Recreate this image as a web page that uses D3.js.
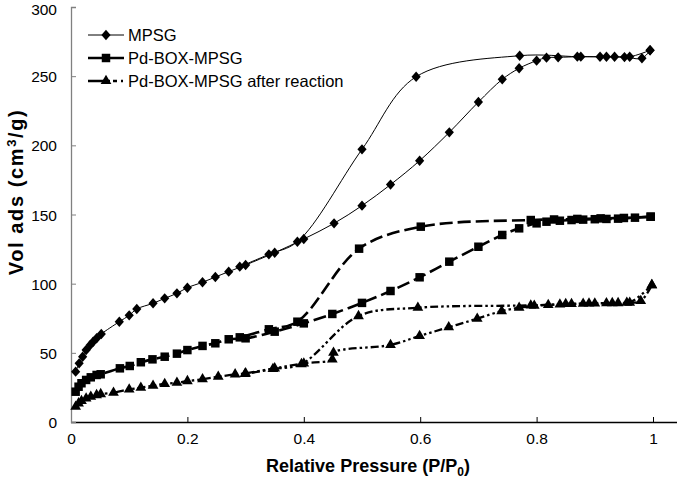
<!DOCTYPE html>
<html><head><meta charset="utf-8">
<script src="https://cdn.jsdelivr.net/npm/d3@7"></script>
<style>body{margin:0;background:#fff}svg{display:block}text{font-family:"Liberation Sans",Arial,sans-serif}</style>
</head><body>
<script>
// ---- data ----
const seriesNames = ["MPSG", "Pd-BOX-MPSG", "Pd-BOX-MPSG after reaction"];
const xTicks = [0, 0.2, 0.4, 0.6, 0.8, 1];
const yTicks = [0, 50, 100, 150, 200, 250, 300];

const mpsgAdsX = [0.008,0.014,0.020,0.026,0.033,0.038,0.044,0.052,0.083,0.100,0.113,0.141,0.161,0.182,0.200,0.226,0.248,0.271,0.300,0.350,0.400,0.452,0.500,0.549,0.599,0.650,0.700,0.741,0.770,0.800,0.817,0.837,0.876,0.920,0.951,0.981,0.995];
const mpsgAdsY = [36.4,42.4,47.2,52,55.7,58,60.5,63.6,72.5,77.1,81.7,85.8,89.4,93,97.1,101,104.8,108.7,113.5,122.4,132.3,143.6,156.4,171.6,188.9,209.4,231.3,247.7,255.7,261.2,263.4,263.6,264.1,264,263.8,262.9,268.7];
const mpsgDesX = [0.995,0.960,0.934,0.909,0.870,0.771,0.593,0.500,0.389,0.340,0.290];
const mpsgDesY = [268.7,264,264,264,264.1,264.8,249.6,197.1,130.3,121.2,112.3];

const pdAdsX = [0.008,0.013,0.018,0.026,0.034,0.044,0.051,0.084,0.101,0.120,0.140,0.161,0.182,0.200,0.226,0.248,0.271,0.300,0.350,0.400,0.449,0.500,0.549,0.599,0.650,0.700,0.741,0.770,0.800,0.817,0.84,0.86,0.88,0.90,0.92,0.94,0.969,0.996];
const pdAdsY = [21.9,25.5,28,30.4,32.3,34,34.5,38.8,40.5,43.2,45.3,47.2,49.4,52,55,56.9,59.8,60.5,65.3,71.3,78.1,86.1,94.7,104.6,115.9,126.7,135.2,140,143.6,144.8,145.5,146,146.3,146.6,146.8,147,147.7,148.4];
const pdDesX = [0.996,0.95,0.91,0.87,0.83,0.790,0.601,0.495,0.389,0.340,0.290];
const pdDesY = [148.4,147.5,147.2,146.8,146.4,146,141.2,125.3,72.5,67,61.2];

const arAdsX = [0.008,0.013,0.018,0.026,0.034,0.044,0.051,0.073,0.100,0.120,0.141,0.161,0.182,0.200,0.226,0.253,0.282,0.300,0.350,0.400,0.449,0.451,0.549,0.599,0.649,0.698,0.740,0.770,0.796,0.82,0.84,0.86,0.88,0.90,0.92,0.94,0.955,0.979,0.998];
const arAdsY = [11.1,13.5,15.2,17.1,18.3,19.5,20.2,21.2,23.6,24.8,26.2,27.5,28.4,29.6,30.9,32.7,34.5,35.2,38.8,42.4,45.3,50.1,55.7,62.2,68.5,74.7,80.2,82.6,84.1,84.6,85,85.3,85.5,85.7,85.9,86,86.2,87.5,99];
const arDesX = [0.998,0.96,0.93,0.89,0.85,0.79,0.596,0.494,0.396,0.347,0.299];
const arDesY = [99,86.3,86,85.7,85.3,84.3,82.6,76.6,41.9,38.3,34.7];

// ---- layout ----
const W = 677, H = 479;
const svg = d3.select("body").append("svg").attr("width", W).attr("height", H);
const x = d3.scaleLinear().domain([0, 1]).range([71, 653]);
const y = d3.scaleLinear().domain([0, 300]).range([422, 7]);

// axes
const xAxis = d3.axisBottom(x).tickValues(xTicks).tickSize(-5).tickPadding(11).tickFormat(d => d === 1 ? "1" : d === 0 ? "0" : d3.format(".1f")(d));
const gx = svg.append("g").attr("transform", "translate(0,422)").call(xAxis);
gx.select(".domain").remove();
gx.selectAll(".tick line").attr("stroke", "#000");
gx.selectAll(".tick").filter(d => d === 0).select("line").remove();
gx.selectAll("text").attr("font-size", 15.5).attr("fill", "#000").attr("dy", "0.71em");
svg.append("line").attr("x1", 71).attr("x2", W).attr("y1", 422.5).attr("y2", 422.5).attr("stroke", "#000").attr("stroke-width", 1.3);

const yAxis = d3.axisLeft(y).tickValues(yTicks).tickSize(-5).tickPadding(14);
const gy = svg.append("g").attr("transform", "translate(71,0)").call(yAxis);
gy.select(".domain").attr("stroke", "#808080").attr("stroke-width", 1.3);
gy.selectAll(".tick line").attr("stroke", "#808080");
gy.selectAll(".tick").filter(d => d === 0).select("line").remove();
gy.selectAll("text").attr("font-size", 15.5).attr("fill", "#000").attr("dy", d => d === 300 ? "0.5em" : "0.36em");

// titles
const xt = svg.append("text").attr("x", 368).attr("y", 472).attr("text-anchor", "middle")
  .attr("font-size", 18).attr("font-weight", "bold");
xt.append("tspan").text("Relative Pressure (P/P");
xt.append("tspan").attr("font-size", 12).attr("dy", 4).text("0");
xt.append("tspan").attr("dy", -4).text(")");

const yt = svg.append("text").attr("transform", "translate(23,192) rotate(-90)").attr("text-anchor", "middle")
  .attr("font-size", 20).attr("font-weight", "bold").attr("letter-spacing", 1.6);
yt.append("tspan").text("Vol ads (cm");
yt.append("tspan").attr("font-size", 13).attr("dy", -7).text("3");
yt.append("tspan").attr("dy", 7).text("/g)");

// series drawing
const zip = (xs, ys) => xs.map((v, i) => [v, ys[i]]);
const line = d3.line().x(d => x(d[0])).y(d => y(d[1])).curve(d3.curveCatmullRom.alpha(0.5));
const diamond = "M0,-5.2L4.6,0L0,5.2L-4.6,0Z";

const styles = [
  { width: 1, dash: null, legDash: null, marker: diamond, ads: zip(mpsgAdsX, mpsgAdsY), des: zip(mpsgDesX, mpsgDesY) },
  { width: 2.6, dash: "13,5", legDash: null, marker: d3.symbol().type(d3.symbolSquare).size(72)(), ads: zip(pdAdsX, pdAdsY), des: zip(pdDesX, pdDesY) },
  { width: 2.3, dash: "8,3,2.5,3,2.5,3", legDash: "22,3,4,4,2,10", marker: d3.symbol().type(d3.symbolTriangle).size(50)(), ads: zip(arAdsX, arAdsY), des: zip(arDesX, arDesY) }
];

styles.forEach(s => {
  [s.ads, s.des].forEach(pts => {
    svg.append("path").attr("d", line(pts)).attr("fill", "none").attr("stroke", "#000")
      .attr("stroke-width", s.width).attr("stroke-dasharray", s.dash);
  });
});
styles.forEach(s => {
  svg.append("g").selectAll("path").data(s.ads.concat(s.des)).join("path")
    .attr("transform", d => `translate(${x(d[0])},${y(d[1])})`)
    .attr("d", s.marker).attr("fill", "#000");
});

// legend
const lg = svg.append("g");
seriesNames.forEach((name, i) => {
  const s = styles[i];
  const yy = 35 + i * 23;
  lg.append("line").attr("x1", 88).attr("x2", 124).attr("y1", yy).attr("y2", yy)
    .attr("stroke", "#000").attr("stroke-width", s.width).attr("stroke-dasharray", s.legDash);
  lg.append("path").attr("transform", `translate(106,${yy})`).attr("d", s.marker).attr("fill", "#000");
  lg.append("text").attr("x", 128).attr("y", yy + 6).attr("font-size", 16.5).text(name);
});
</script>
</body></html>
